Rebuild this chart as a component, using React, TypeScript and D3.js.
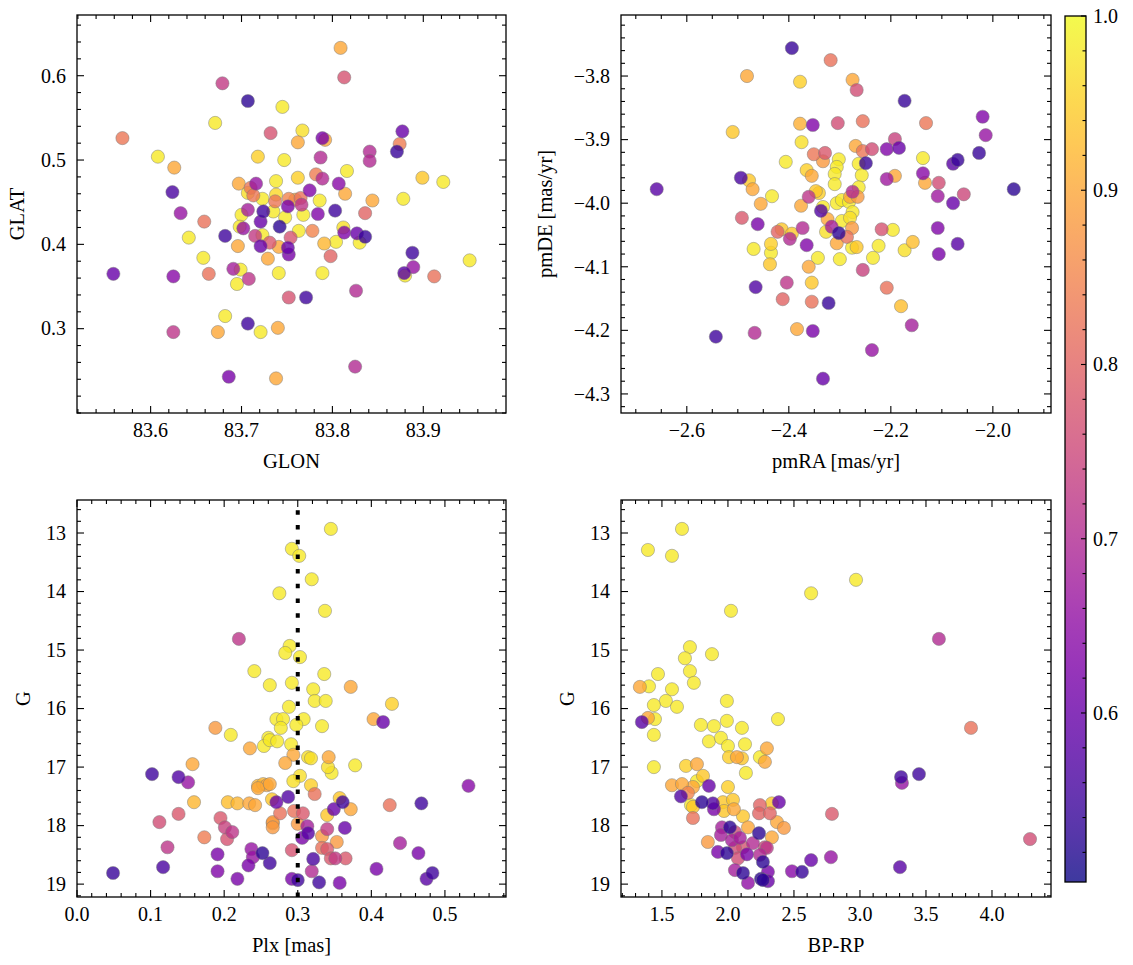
import React from 'react';
import * as d3 from 'd3';

const W = 1133;
const H = 965;
const FONT = '"Liberation Serif", "Times New Roman", serif';

type Pt = [number, number, number];

// [GLON, GLAT, probability]
const GLON_GLAT: Pt[] = [
  [83.679, 0.591, 0.73], [83.707, 0.570, 0.53], [83.745, 0.563, 0.98], [83.671, 0.544, 0.98],
  [83.732, 0.532, 0.77], [83.569, 0.526, 0.83], [83.608, 0.504, 0.98], [83.626, 0.491, 0.90],
  [83.718, 0.504, 0.95], [83.747, 0.500, 0.98], [83.624, 0.462, 0.56], [83.633, 0.437, 0.66],
  [83.659, 0.427, 0.82], [83.642, 0.408, 0.98], [83.682, 0.410, 0.55], [83.696, 0.398, 0.90],
  [83.658, 0.384, 0.98], [83.559, 0.365, 0.60], [83.625, 0.362, 0.64], [83.664, 0.365, 0.82],
  [83.691, 0.371, 0.68], [83.699, 0.370, 0.98], [83.695, 0.353, 0.98], [83.708, 0.359, 0.72],
  [83.741, 0.366, 0.98], [83.752, 0.337, 0.77], [83.682, 0.315, 0.98], [83.707, 0.306, 0.55],
  [83.625, 0.296, 0.72], [83.674, 0.296, 0.90], [83.721, 0.296, 0.98], [83.740, 0.301, 0.90],
  [83.686, 0.243, 0.62], [83.738, 0.241, 0.90],
  [83.697, 0.472, 0.90], [83.716, 0.472, 0.66], [83.710, 0.467, 0.83], [83.738, 0.475, 0.98],
  [83.707, 0.461, 0.97], [83.713, 0.458, 0.83], [83.723, 0.454, 0.98], [83.738, 0.459, 0.96],
  [83.737, 0.451, 0.83], [83.752, 0.454, 0.85], [83.759, 0.453, 0.90], [83.765, 0.455, 0.82],
  [83.766, 0.447, 0.72], [83.775, 0.464, 0.63], [83.786, 0.452, 0.98], [83.700, 0.435, 0.98],
  [83.707, 0.441, 0.68], [83.724, 0.439, 0.55], [83.735, 0.439, 0.98], [83.751, 0.445, 0.62],
  [83.768, 0.435, 0.98], [83.784, 0.436, 0.63], [83.803, 0.440, 0.55], [83.721, 0.427, 0.60],
  [83.748, 0.432, 0.98], [83.742, 0.421, 0.53], [83.698, 0.421, 0.98], [83.702, 0.419, 0.66],
  [83.715, 0.410, 0.73], [83.723, 0.411, 0.98], [83.754, 0.408, 0.77], [83.763, 0.416, 0.98],
  [83.778, 0.416, 0.85], [83.812, 0.420, 0.97], [83.813, 0.414, 0.63], [83.721, 0.398, 0.60],
  [83.731, 0.402, 0.78], [83.741, 0.397, 0.90], [83.751, 0.396, 0.60], [83.752, 0.388, 0.62],
  [83.791, 0.401, 0.92], [83.804, 0.403, 0.98], [83.729, 0.383, 0.90], [83.798, 0.386, 0.80],
  [83.789, 0.366, 0.98], [83.762, 0.479, 0.95], [83.782, 0.483, 0.84], [83.789, 0.478, 0.70],
  [83.807, 0.472, 0.64], [83.814, 0.460, 0.90], [83.816, 0.487, 0.98], [83.787, 0.503, 0.70],
  [83.762, 0.521, 0.90], [83.767, 0.535, 0.97], [83.792, 0.524, 0.90], [83.789, 0.526, 0.62],
  [83.809, 0.633, 0.90], [83.813, 0.598, 0.77],
  [83.877, 0.534, 0.60], [83.874, 0.519, 0.84], [83.871, 0.510, 0.54], [83.841, 0.510, 0.70],
  [83.841, 0.499, 0.70], [83.899, 0.479, 0.94], [83.922, 0.474, 0.98], [83.844, 0.452, 0.90],
  [83.878, 0.454, 0.98], [83.836, 0.437, 0.80], [83.827, 0.413, 0.60], [83.836, 0.409, 0.54],
  [83.830, 0.402, 0.98], [83.888, 0.390, 0.55], [83.889, 0.373, 0.66], [83.880, 0.363, 0.98],
  [83.879, 0.366, 0.58], [83.951, 0.381, 0.98], [83.912, 0.362, 0.82], [83.826, 0.345, 0.70],
  [83.771, 0.337, 0.55], [83.825, 0.255, 0.70],
];

// [pmRA, pmDE, probability]
const PMRA_PMDE: Pt[] = [
  [-2.394, -3.756, 0.54], [-2.482, -3.800, 0.90], [-2.378, -3.809, 0.95], [-2.318, -3.775, 0.82],
  [-2.275, -3.806, 0.90], [-2.267, -3.822, 0.76], [-2.173, -3.839, 0.54], [-2.510, -3.888, 0.94],
  [-2.378, -3.875, 0.91], [-2.353, -3.877, 0.63], [-2.304, -3.874, 0.76], [-2.255, -3.871, 0.82],
  [-2.131, -3.874, 0.83], [-2.020, -3.864, 0.63], [-2.014, -3.893, 0.66], [-2.027, -3.921, 0.54],
  [-2.375, -3.904, 0.97], [-2.351, -3.923, 0.83], [-2.329, -3.921, 0.78], [-2.333, -3.934, 0.88],
  [-2.269, -3.910, 0.90], [-2.255, -3.918, 0.83], [-2.237, -3.915, 0.76], [-2.208, -3.915, 0.63],
  [-2.192, -3.899, 0.74], [-2.184, -3.913, 0.60], [-2.406, -3.935, 0.98], [-2.302, -3.931, 0.98],
  [-2.306, -3.943, 0.98], [-2.310, -3.954, 0.98], [-2.310, -3.970, 0.98], [-2.365, -3.948, 0.95],
  [-2.355, -3.957, 0.90], [-2.263, -3.938, 0.98], [-2.249, -3.937, 0.54], [-2.257, -3.956, 0.98],
  [-2.263, -3.975, 0.98], [-2.208, -3.962, 0.67], [-2.192, -3.957, 0.90], [-2.137, -3.929, 0.98],
  [-2.069, -3.932, 0.54], [-2.078, -3.938, 0.58], [-2.137, -3.953, 0.64], [-2.133, -3.968, 0.90],
  [-2.106, -3.968, 0.76], [-1.959, -3.978, 0.53], [-2.494, -3.960, 0.56], [-2.478, -3.964, 0.94],
  [-2.471, -3.978, 0.90], [-2.659, -3.978, 0.58], [-2.433, -3.989, 0.98], [-2.455, -4.001, 0.90],
  [-2.376, -4.004, 0.90], [-2.361, -3.990, 0.72], [-2.347, -3.981, 0.94], [-2.341, -3.984, 0.95],
  [-2.306, -4.000, 0.98], [-2.296, -3.995, 0.98], [-2.275, -3.982, 0.70], [-2.280, -3.990, 0.90],
  [-2.265, -3.990, 0.88], [-2.282, -3.998, 0.98], [-2.275, -4.014, 0.98], [-2.333, -4.006, 0.98],
  [-2.337, -4.012, 0.57], [-2.296, -4.028, 0.98], [-2.280, -4.023, 0.97], [-2.324, -4.025, 0.90],
  [-2.316, -4.037, 0.68], [-2.302, -4.047, 0.53], [-2.276, -4.039, 0.88], [-2.286, -4.053, 0.82],
  [-2.327, -4.045, 0.97], [-2.306, -4.063, 0.90], [-2.267, -4.069, 0.94], [-2.276, -4.070, 0.98],
  [-2.224, -4.067, 0.98], [-2.218, -4.041, 0.77], [-2.196, -4.042, 0.98], [-2.157, -4.061, 0.93],
  [-2.173, -4.074, 0.97], [-2.235, -4.086, 0.98], [-2.108, -3.989, 0.67], [-2.078, -4.000, 0.60],
  [-2.057, -3.986, 0.75], [-2.108, -4.039, 0.63], [-2.069, -4.064, 0.58], [-2.106, -4.080, 0.62],
  [-2.492, -4.023, 0.78], [-2.461, -4.033, 0.62], [-2.422, -4.045, 0.80], [-2.414, -4.041, 0.94],
  [-2.398, -4.056, 0.70], [-2.373, -4.039, 0.70], [-2.394, -4.048, 0.94], [-2.365, -4.066, 0.63],
  [-2.469, -4.072, 0.98], [-2.435, -4.064, 0.95], [-2.435, -4.078, 0.98], [-2.437, -4.096, 0.94],
  [-2.343, -4.086, 0.98], [-2.300, -4.088, 0.98], [-2.361, -4.100, 0.90], [-2.255, -4.105, 0.74],
  [-2.465, -4.132, 0.57], [-2.404, -4.125, 0.72], [-2.412, -4.151, 0.80], [-2.355, -4.125, 0.94],
  [-2.208, -4.133, 0.82], [-2.180, -4.162, 0.93], [-2.159, -4.192, 0.68], [-2.237, -4.231, 0.66],
  [-2.322, -4.157, 0.54], [-2.355, -4.155, 0.82], [-2.353, -4.201, 0.62], [-2.333, -4.276, 0.60],
  [-2.384, -4.198, 0.90], [-2.467, -4.204, 0.70], [-2.543, -4.210, 0.55],
];

// [Plx, G, probability]
const PLX_G: Pt[] = [
  [0.220, 14.81, 0.72], [0.241, 15.36, 0.98], [0.188, 16.33, 0.88], [0.209, 16.45, 0.98],
  [0.260, 16.50, 0.98], [0.254, 16.64, 0.98], [0.235, 16.68, 0.90], [0.157, 16.95, 0.90],
  [0.102, 17.12, 0.55], [0.138, 17.17, 0.57], [0.151, 17.26, 0.66], [0.246, 17.32, 0.92],
  [0.253, 17.29, 0.92], [0.258, 17.31, 0.90], [0.246, 17.36, 0.90], [0.205, 17.60, 0.93],
  [0.218, 17.62, 0.92], [0.234, 17.62, 0.90], [0.242, 17.65, 0.90], [0.159, 17.60, 0.92],
  [0.265, 17.55, 0.94], [0.138, 17.80, 0.78], [0.112, 17.94, 0.76], [0.195, 17.87, 0.78],
  [0.201, 18.03, 0.74], [0.211, 18.11, 0.72], [0.204, 18.23, 0.77], [0.266, 17.94, 0.88],
  [0.266, 18.03, 0.88], [0.173, 18.20, 0.84], [0.123, 18.37, 0.72], [0.191, 18.49, 0.62],
  [0.237, 18.40, 0.66], [0.239, 18.54, 0.66], [0.252, 18.47, 0.53], [0.262, 18.64, 0.55],
  [0.233, 18.68, 0.62], [0.117, 18.71, 0.56], [0.191, 18.78, 0.63], [0.049, 18.81, 0.54],
  [0.218, 18.91, 0.62], [0.345, 12.93, 0.98], [0.292, 13.27, 0.98], [0.302, 13.39, 0.98],
  [0.319, 13.79, 0.98], [0.275, 14.03, 0.98], [0.337, 14.33, 0.98], [0.289, 14.93, 0.98],
  [0.283, 15.05, 0.98], [0.303, 15.12, 0.98], [0.336, 15.41, 0.98], [0.292, 15.56, 0.98],
  [0.262, 15.60, 0.98], [0.321, 15.67, 0.98], [0.323, 15.87, 0.98], [0.338, 15.87, 0.98],
  [0.372, 15.63, 0.90], [0.428, 15.92, 0.95], [0.403, 16.18, 0.90], [0.416, 16.23, 0.60],
  [0.288, 15.97, 0.98], [0.271, 16.18, 0.98], [0.280, 16.18, 0.98], [0.308, 16.18, 0.98],
  [0.298, 16.28, 0.98], [0.277, 16.33, 0.98], [0.333, 16.30, 0.98], [0.262, 16.54, 0.98],
  [0.272, 16.56, 0.98], [0.291, 16.61, 0.98], [0.294, 16.79, 0.90], [0.283, 16.93, 0.90],
  [0.314, 16.83, 0.97], [0.318, 16.85, 0.97], [0.342, 16.83, 0.90], [0.341, 17.00, 0.97],
  [0.346, 17.10, 0.98], [0.378, 16.97, 0.98], [0.303, 17.15, 0.97], [0.294, 17.24, 0.97],
  [0.262, 17.29, 0.90], [0.318, 17.31, 0.95], [0.323, 17.46, 0.82], [0.287, 17.51, 0.57],
  [0.271, 17.60, 0.60], [0.357, 17.53, 0.94], [0.349, 17.72, 0.60], [0.361, 17.60, 0.55],
  [0.372, 17.72, 0.90], [0.340, 17.82, 0.94], [0.276, 17.79, 0.82], [0.295, 17.75, 0.82],
  [0.307, 17.79, 0.78], [0.266, 17.96, 0.90], [0.300, 17.97, 0.88], [0.313, 18.01, 0.68],
  [0.314, 18.13, 0.58], [0.306, 18.21, 0.62], [0.333, 18.18, 0.88], [0.340, 18.06, 0.73],
  [0.364, 18.04, 0.60], [0.353, 18.28, 0.88], [0.340, 18.40, 0.78], [0.333, 18.38, 0.82],
  [0.292, 18.42, 0.77], [0.345, 18.56, 0.78], [0.351, 18.56, 0.73], [0.365, 18.56, 0.78],
  [0.321, 18.57, 0.56], [0.319, 18.78, 0.70], [0.407, 18.74, 0.62], [0.439, 18.30, 0.68],
  [0.464, 18.47, 0.62], [0.468, 17.62, 0.55], [0.425, 17.65, 0.82], [0.532, 17.32, 0.64],
  [0.483, 18.81, 0.55], [0.475, 18.91, 0.58], [0.292, 18.91, 0.62], [0.300, 18.93, 0.55],
  [0.329, 18.97, 0.55], [0.357, 18.98, 0.62],
];

// [BP-RP, G, probability]
const BPRP_G: Pt[] = [
  [1.652, 12.93, 0.98], [1.394, 13.29, 0.98], [1.576, 13.39, 0.98], [2.023, 14.33, 0.98],
  [2.630, 14.03, 0.98], [1.879, 15.07, 0.98], [1.712, 14.95, 0.98], [1.674, 15.14, 0.98],
  [1.712, 15.36, 0.98], [1.742, 15.56, 0.98], [1.470, 15.41, 0.98], [1.402, 15.62, 0.98],
  [1.333, 15.63, 0.90], [1.576, 15.67, 0.98], [1.530, 15.87, 0.98], [1.614, 15.97, 0.98],
  [1.439, 15.94, 0.98], [1.992, 15.87, 0.98], [2.379, 16.18, 0.98], [1.348, 16.23, 0.58],
  [1.394, 16.16, 0.90], [1.447, 16.18, 0.98], [1.439, 16.45, 0.98], [1.795, 16.28, 0.98],
  [1.894, 16.30, 0.98], [1.992, 16.21, 0.98], [2.106, 16.33, 0.98], [1.856, 16.56, 0.98],
  [1.947, 16.50, 0.98], [2.000, 16.64, 0.98], [2.129, 16.61, 0.98], [2.295, 16.68, 0.90],
  [2.008, 16.83, 0.95], [2.068, 16.83, 0.90], [2.106, 16.85, 0.94], [2.242, 16.83, 0.98],
  [2.280, 16.91, 0.90], [2.136, 17.10, 0.98], [1.439, 17.00, 0.98], [1.682, 16.98, 0.95],
  [1.765, 16.95, 0.90], [1.811, 17.15, 0.94], [1.765, 17.24, 0.98], [1.735, 17.34, 0.90],
  [1.856, 17.32, 0.60], [2.000, 17.34, 0.95], [1.576, 17.31, 0.90], [1.652, 17.29, 0.90],
  [1.697, 17.44, 0.85], [1.735, 17.68, 0.94], [1.644, 17.50, 0.57], [1.720, 17.65, 0.98],
  [1.803, 17.60, 0.53], [1.886, 17.62, 0.57], [1.962, 17.60, 0.94], [1.894, 17.72, 0.62],
  [2.038, 17.56, 0.94], [2.045, 17.72, 0.90], [1.970, 17.75, 0.94], [2.114, 17.84, 0.94],
  [2.152, 18.03, 0.90], [2.242, 17.65, 0.80], [2.235, 17.79, 0.80], [2.318, 17.79, 0.80],
  [2.333, 17.62, 0.94], [2.386, 17.60, 0.60], [2.371, 17.94, 0.90], [2.424, 18.04, 0.88],
  [2.333, 18.20, 0.90], [1.735, 17.87, 0.82], [1.848, 18.28, 0.88], [1.955, 18.03, 0.68],
  [2.015, 18.03, 0.53], [1.947, 18.16, 0.68], [2.030, 18.25, 0.68], [2.053, 18.11, 0.76],
  [2.091, 18.21, 0.68], [1.924, 18.45, 0.62], [1.992, 18.47, 0.53], [2.053, 18.38, 0.76],
  [2.114, 18.37, 0.77], [2.144, 18.49, 0.62], [2.076, 18.56, 0.76], [2.189, 18.30, 0.70],
  [2.235, 18.13, 0.53], [2.280, 18.37, 0.75], [2.242, 18.50, 0.70], [2.265, 18.62, 0.53],
  [2.295, 18.38, 0.72], [2.053, 18.76, 0.68], [2.114, 18.81, 0.53], [2.152, 18.98, 0.65],
  [2.250, 18.91, 0.53], [2.265, 18.93, 0.53], [2.303, 18.95, 0.60], [2.303, 18.79, 0.62],
  [2.485, 18.78, 0.64], [2.561, 18.79, 0.54], [2.630, 18.59, 0.60], [2.970, 13.80, 0.98],
  [3.598, 14.81, 0.70], [3.841, 16.33, 0.82], [3.311, 17.17, 0.55], [3.447, 17.12, 0.55],
  [3.318, 17.27, 0.66], [2.788, 17.80, 0.78], [4.288, 18.23, 0.76], [2.780, 18.54, 0.66],
  [3.303, 18.71, 0.58],
];

const GLON_TICKS = [83.6, 83.7, 83.8, 83.9];
const GLAT_TICKS = [0.3, 0.4, 0.5, 0.6];
const PMRA_TICKS = [-2.6, -2.4, -2.2, -2.0];
const PMDE_TICKS = [-4.3, -4.2, -4.1, -4.0, -3.9, -3.8];
const PLX_TICKS = [0.0, 0.1, 0.2, 0.3, 0.4, 0.5];
const BPRP_TICKS = [1.5, 2.0, 2.5, 3.0, 3.5, 4.0];
const G_TICKS = [13, 14, 15, 16, 17, 18, 19];
const CBAR_TICKS = [0.6, 0.7, 0.8, 0.9, 1.0];
const PLX_CUT = 0.3;

const P_MIN = 0.503;
const P_MAX = 1.0;
const color = d3.scaleSequential(d3.interpolatePlasma).domain([P_MIN, P_MAX]);

function minorTicks(d0: number, d1: number, step: number, majors: number[]): number[] {
  const lo = Math.min(d0, d1), hi = Math.max(d0, d1);
  const out: number[] = [];
  for (let k = Math.ceil(lo / step - 1e-9); k <= Math.floor(hi / step + 1e-9); k++) {
    const v = k * step;
    if (!majors.some((m) => Math.abs(m - v) < step / 10)) out.push(v);
  }
  return out;
}

function fmt(v: number, digits: number): string {
  const s = Math.abs(v).toFixed(digits);
  return (v < -1e-9 ? '\u2212' : '') + s;
}

const MAJ = 7;
const MIN = 4;
const TICK_FS = 20;
const LABEL_FS = 20.5;

interface PanelProps {
  id: string;
  left: number; top: number; width: number; height: number;
  xDomain: [number, number]; yDomain: [number, number];
  xMajors: number[]; yMajors: number[];
  xMinorStep: number; yMinorStep: number;
  xDigits: number; yDigits: number;
  xLabel: string; yLabel: string; yLabelX: number;
  data: Pt[];
  vline?: number;
}

function Panel(p: PanelProps) {
  const x = d3.scaleLinear().domain(p.xDomain).range([p.left, p.left + p.width]);
  const y = d3.scaleLinear().domain(p.yDomain).range([p.top + p.height, p.top]);
  const x0 = p.left, x1 = p.left + p.width, y0 = p.top, y1 = p.top + p.height;
  const xMin = minorTicks(p.xDomain[0], p.xDomain[1], p.xMinorStep, p.xMajors);
  const yMin = minorTicks(p.yDomain[0], p.yDomain[1], p.yMinorStep, p.yMajors);
  const sorted = [...p.data].sort((a, b) => b[2] - a[2]);
  const tickStroke = { stroke: '#000', strokeWidth: 1.1 };
  return (
    <g>
      <defs>
        <clipPath id={`clip-${p.id}`}>
          <rect x={x0} y={y0} width={p.width} height={p.height} />
        </clipPath>
      </defs>
      <g clipPath={`url(#clip-${p.id})`}>
        {sorted.map((d, i) => (
          <circle key={i} cx={x(d[0])} cy={y(d[1])} r={6.6} fill={color(d[2])}
            fillOpacity={0.8} stroke="#7a7a7a" strokeOpacity={0.8} strokeWidth={0.6} />
        ))}
        {p.vline !== undefined && (
          <line x1={x(p.vline)} x2={x(p.vline)} y1={y1} y2={y0} stroke="#000"
            strokeWidth={4} strokeDasharray="4.5 10.2" />
        )}
      </g>
      {p.xMajors.map((v) => (
        <g key={`xm${v}`}>
          <line x1={x(v)} x2={x(v)} y1={y1} y2={y1 - MAJ} {...tickStroke} />
          <line x1={x(v)} x2={x(v)} y1={y0} y2={y0 + MAJ} {...tickStroke} />
          <text x={x(v)} y={y1 + 24} textAnchor="middle" fontSize={TICK_FS} fontFamily={FONT}>{fmt(v, p.xDigits)}</text>
        </g>
      ))}
      {xMin.map((v) => (
        <g key={`xn${v}`}>
          <line x1={x(v)} x2={x(v)} y1={y1} y2={y1 - MIN} {...tickStroke} />
          <line x1={x(v)} x2={x(v)} y1={y0} y2={y0 + MIN} {...tickStroke} />
        </g>
      ))}
      {p.yMajors.map((v) => (
        <g key={`ym${v}`}>
          <line x1={x0} x2={x0 + MAJ} y1={y(v)} y2={y(v)} {...tickStroke} />
          <line x1={x1} x2={x1 - MAJ} y1={y(v)} y2={y(v)} {...tickStroke} />
          <text x={x0 - 11} y={y(v)} dy="0.34em" textAnchor="end" fontSize={TICK_FS} fontFamily={FONT}>{fmt(v, p.yDigits)}</text>
        </g>
      ))}
      {yMin.map((v) => (
        <g key={`yn${v}`}>
          <line x1={x0} x2={x0 + MIN} y1={y(v)} y2={y(v)} {...tickStroke} />
          <line x1={x1} x2={x1 - MIN} y1={y(v)} y2={y(v)} {...tickStroke} />
        </g>
      ))}
      <rect x={x0} y={y0} width={p.width} height={p.height} fill="none" stroke="#000" strokeWidth={1.3} />
      <text x={(x0 + x1) / 2} y={y1 + 55} textAnchor="middle" fontSize={LABEL_FS} fontFamily={FONT}>{p.xLabel}</text>
      <text transform={`translate(${p.yLabelX},${(y0 + y1) / 2}) rotate(-90)`} dy="0.34em" textAnchor="middle"
        fontSize={LABEL_FS} fontFamily={FONT}>{p.yLabel}</text>
    </g>
  );
}

function Colorbar() {
  const left = 1065, width = 21, top = 16, bottom = 882;
  const c = d3.scaleLinear().domain([P_MIN, P_MAX]).range([bottom, top]);
  const stops = d3.range(0, 1.0001, 0.05);
  const minors = minorTicks(P_MIN, P_MAX, 0.02, CBAR_TICKS);
  const right = left + width;
  return (
    <g>
      <defs>
        <linearGradient id="cbar-grad" x1="0" y1="1" x2="0" y2="0">
          {stops.map((t) => (
            <stop key={t} offset={t} stopColor={d3.interpolatePlasma(t)} />
          ))}
        </linearGradient>
      </defs>
      <rect x={left} y={top} width={width} height={bottom - top} fill="url(#cbar-grad)" fillOpacity={0.8} />
      {CBAR_TICKS.map((v) => (
        <g key={`c${v}`}>
          <line x1={right} x2={right - 5} y1={c(v)} y2={c(v)} stroke="#000" strokeWidth={1.1} />
          <text x={right + 7} y={c(v)} dy="0.34em" fontSize={TICK_FS} fontFamily={FONT}>{fmt(v, 1)}</text>
        </g>
      ))}
      {minors.map((v) => (
        <line key={`cm${v}`} x1={right} x2={right - 3.5} y1={c(v)} y2={c(v)} stroke="#000" strokeWidth={1.1} />
      ))}
      <rect x={left} y={top} width={width} height={bottom - top} fill="none" stroke="#000" strokeWidth={1.3} />
    </g>
  );
}

export default function App() {
  return (
    <svg width={W} height={H} style={{ position: 'absolute', left: 0, top: 0, background: '#fff' }}>
      <rect width={W} height={H} fill="#fff" />
      <Panel id="tl" left={77} top={15} width={429} height={398}
        xDomain={[83.519, 83.991]} yDomain={[0.2, 0.672]}
        xMajors={GLON_TICKS} yMajors={GLAT_TICKS} xMinorStep={0.02} yMinorStep={0.02}
        xDigits={1} yDigits={1} xLabel="GLON" yLabel="GLAT" yLabelX={17} data={GLON_GLAT} />
      <Panel id="tr" left={621} top={15} width={430} height={398}
        xDomain={[-2.729, -1.886]} yDomain={[-4.33, -3.704]}
        xMajors={PMRA_TICKS} yMajors={PMDE_TICKS} xMinorStep={0.05} yMinorStep={0.02}
        xDigits={1} yDigits={1} xLabel="pmRA [mas/yr]" yLabel="pmDE [mas/yr]" yLabelX={545} data={PMRA_PMDE} />
      <Panel id="bl" left={77} top={500} width={429} height={397}
        xDomain={[0, 0.583]} yDomain={[19.22, 12.436]}
        xMajors={PLX_TICKS} yMajors={G_TICKS} xMinorStep={0.02} yMinorStep={0.2}
        xDigits={1} yDigits={0} xLabel="Plx [mas]" yLabel="G" yLabelX={23} data={PLX_G} vline={PLX_CUT} />
      <Panel id="br" left={621} top={500} width={430} height={397}
        xDomain={[1.19, 4.447]} yDomain={[19.22, 12.436]}
        xMajors={BPRP_TICKS} yMajors={G_TICKS} xMinorStep={0.1} yMinorStep={0.2}
        xDigits={1} yDigits={0} xLabel="BP-RP" yLabel="G" yLabelX={567} data={BPRP_G} />
      <Colorbar />
    </svg>
  );
}
